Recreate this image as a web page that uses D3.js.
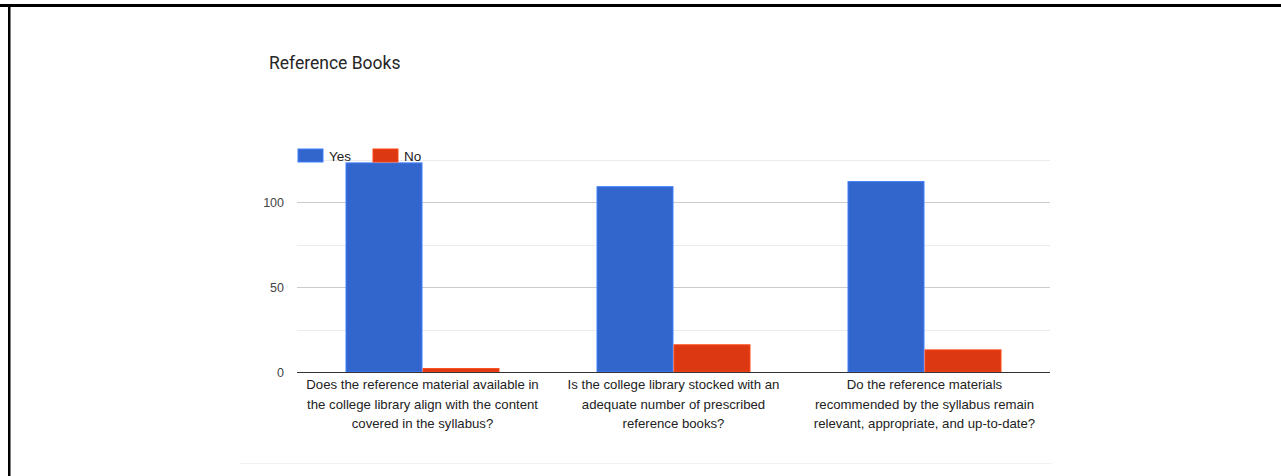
<!DOCTYPE html>
<html>
<head>
<meta charset="utf-8">
<script src="https://cdn.jsdelivr.net/npm/d3@7"></script>
<style>
  html, body { margin: 0; padding: 0; background: #fff; }
  svg { display: block; }
</style>
</head>
<body>
<svg id="chart" width="1281" height="476"></svg>
<script>
const title = "Reference Books";
const categories = ["Q1", "Q2", "Q3"];
const categoryLabelLines = [
  ["Does the reference material available in", "the college library align with the content", "covered in the syllabus?"],
  ["Is the college library stocked with an", "adequate number of prescribed", "reference books?"],
  ["Do the reference materials", "recommended by the syllabus remain", "relevant, appropriate, and up-to-date?"]
];
const seriesNames = ["Yes", "No"];
const yesValues = [123, 109, 112];
const noValues = [2, 16, 13];
const yTickLabels = [0, 50, 100];
const gridValues = [25, 50, 75, 100, 125];
const colors = ["#3366cc", "#dc3912"];

const svg = d3.select("#chart");
const W = 1281, H = 476;
svg.append("rect").attr("width", W).attr("height", H).attr("fill", "#fff");

// frame lines
svg.append("rect").attr("x", 0).attr("y", 4).attr("width", W).attr("height", 3).attr("fill", "#000");
svg.append("rect").attr("x", 8).attr("y", 4).attr("width", 2.5).attr("height", H - 4).attr("fill", "#000");

// faint card bottom edge
svg.append("line").attr("x1", 240).attr("x2", 1052).attr("y1", 463.5).attr("y2", 463.5)
  .attr("stroke", "#f1f1f1").attr("stroke-width", 1);

const plot = { left: 297, right: 1050, top: 159.5, bottom: 372 };

const y = d3.scaleLinear().domain([0, 125]).range([plot.bottom, plot.top]);
const x0 = d3.scaleBand().domain(categories).range([plot.left, plot.right]).padding(0);
const x1 = d3.scaleBand().domain(seriesNames).range([0, x0.bandwidth()]).paddingInner(0).paddingOuter(0.63);

// title
svg.append("text").attr("x", 269).attr("y", 69)
  .attr("font-family", "Roboto, 'Noto Sans', sans-serif").attr("font-size", 17.5)
  .attr("fill", "#262626").text(title);

// grid lines
svg.append("g").selectAll("line").data(gridValues).join("line")
  .attr("x1", plot.left).attr("x2", plot.right)
  .attr("y1", d => Math.round(y(d)) + 0.5).attr("y2", d => Math.round(y(d)) + 0.5)
  .attr("stroke", d => d % 50 === 0 ? "#cccccc" : "#ebebeb").attr("stroke-width", 1);

// y axis labels
const yAxis = d3.axisLeft(y).tickValues(yTickLabels).tickSize(0).tickPadding(0);
const gy = svg.append("g").attr("transform", `translate(${284},0)`).call(yAxis);
gy.select(".domain").remove();
gy.selectAll("text").attr("font-family", "Arial, 'Liberation Sans', sans-serif")
  .attr("font-size", 12.5).attr("fill", "#444");

// bars
const rows = categories.map((c, i) => ({ cat: c, vals: [yesValues[i], noValues[i]] }));
const groups = svg.append("g").selectAll("g").data(rows).join("g")
  .attr("transform", d => `translate(${x0(d.cat)},0)`);
groups.selectAll("rect").data(d => d.vals.map((v, j) => ({ key: seriesNames[j], v, j })))
  .join("rect")
  .attr("x", d => x1(d.key) + 0.5)
  .attr("width", x1.bandwidth() - 1)
  .attr("y", d => y(d.v))
  .attr("height", d => y(0) - y(d.v))
  .attr("fill", d => colors[d.j])
  .attr("stroke", d => d3.color(colors[d.j]).brighter(0.6))
  .attr("stroke-width", 1);

// baseline
svg.append("line").attr("x1", plot.left).attr("x2", plot.right)
  .attr("y1", plot.bottom + 0.5).attr("y2", plot.bottom + 0.5)
  .attr("stroke", "#333").attr("stroke-width", 1);

// x labels (multi-line)
const xAxis = d3.axisBottom(x0).tickSize(0).tickPadding(0);
const gx = svg.append("g").attr("transform", `translate(0,${plot.bottom})`).call(xAxis);
gx.select(".domain").remove();
gx.selectAll("text").attr("font-family", "Arial, 'Liberation Sans', sans-serif")
  .attr("font-size", 13.2).attr("fill", "#222").attr("dy", null).attr("y", 0)
  .each(function (d, i) {
    const t = d3.select(this);
    t.text(null);
    categoryLabelLines[categories.indexOf(d)].forEach((l, k) => {
      t.append("tspan").attr("x", 0).attr("y", 17 + k * 19.5).text(l);
    });
  });

// legend
const legend = svg.append("g");
const legendX = [298, 373];
seriesNames.forEach((s, i) => {
  legend.append("rect").attr("x", legendX[i]).attr("y", 149).attr("width", 25).attr("height", 13)
    .attr("fill", colors[i]).attr("stroke", d3.color(colors[i]).brighter(0.6)).attr("stroke-width", 1);
  legend.append("text").attr("x", legendX[i] + 31).attr("y", 161)
    .attr("font-family", "Arial, 'Liberation Sans', sans-serif").attr("font-size", 13.5)
    .attr("fill", "#222").text(s);
});
</script>
</body>
</html>
